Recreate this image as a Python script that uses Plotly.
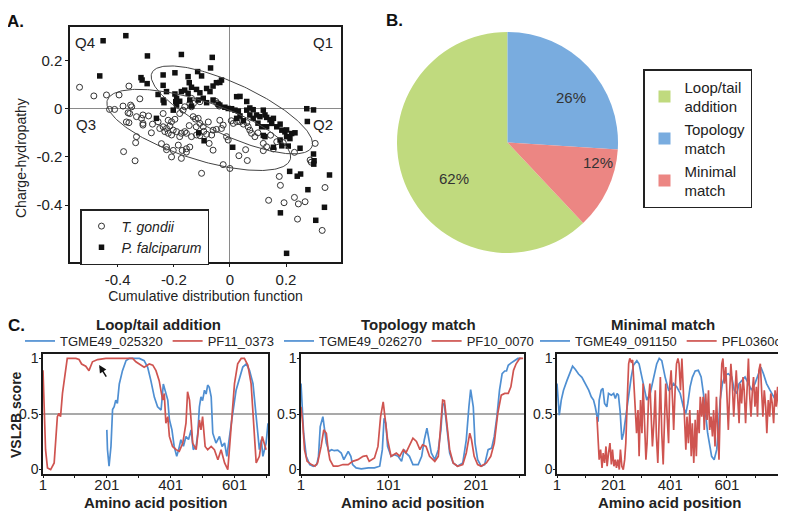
import numpy as np
import plotly.graph_objects as go

# ---------------- data ----------------
# Panel A: scatter (cumulative distribution function vs charge-hydropathy)
tg_x = [-0.536, -0.485, -0.440, -0.395, -0.360, -0.321, -0.429, -0.411, -0.381, -0.354, -0.350, -0.363,
        -0.357, -0.333, -0.315, -0.310, -0.369, -0.360, -0.310, -0.310, -0.333, -0.336, -0.379, -0.338,
        -0.276, -0.256, -0.238, -0.250, -0.232, -0.226, -0.214, -0.220, -0.208, -0.202, -0.190, -0.179,
        -0.173, -0.161, -0.155, -0.137, -0.119, -0.107, -0.093, -0.083, -0.065, -0.060, -0.048, -0.244,
        -0.226, -0.202, -0.184, -0.170, -0.155, -0.143, -0.226, -0.208, -0.173, -0.155, -0.238, -0.220,
        -0.208, -0.196, -0.179, -0.167, -0.161, -0.143, -0.137, -0.131, -0.123, -0.113, -0.107, -0.137,
        -0.130, -0.107, -0.101, -0.074, -0.060, -0.036, -0.030, -0.024, -0.012, -0.006, -0.024, 0.000,
        -0.050, -0.045, -0.038, 0.012, 0.024, 0.036, 0.048, 0.060, 0.065, 0.071, 0.077, 0.032,
        0.062, 0.056, 0.089, 0.119, 0.131, 0.119, 0.155, 0.167, 0.190, 0.230, 0.176, 0.180,
        0.138, 0.193, 0.230, 0.244, 0.268, 0.241, 0.329, 0.339, 0.304, 0.286, 0.290,
        -0.095, -0.077, -0.120, -0.145, 0.005, 0.100, 0.145, -0.280, -0.290]
tg_y = [0.089, 0.053, 0.057, 0.057, 0.094, 0.041, -0.003, -0.003, 0.011, 0.015, 0.008, -0.017,
        -0.020, -0.033, -0.040, -0.026, -0.055, -0.058, -0.061, -0.068, -0.116, -0.141, -0.178, -0.216,
        -0.064, -0.054, -0.075, -0.082, -0.095, -0.082, -0.072, -0.102, -0.109, -0.089, -0.095, -0.116,
        -0.102, -0.095, -0.102, -0.116, -0.109, -0.112, -0.094, -0.106, -0.109, -0.089, -0.086, -0.145,
        -0.159, -0.173, -0.151, -0.173, -0.166, -0.159, -0.170, -0.200, -0.206, -0.180, -0.020, -0.048,
        -0.054, -0.044, -0.020, -0.006, 0.008, 0.022, 0.043, -0.033, -0.043, -0.040, -0.061, 0.008,
        0.022, 0.029, -0.268, -0.144, -0.172, -0.048, -0.082, -0.068, -0.116, -0.130, -0.232, -0.248,
        0.030, 0.022, 0.011, -0.061, -0.054, -0.054, -0.064, -0.058, -0.075, -0.089, -0.102, -0.195,
        -0.215, -0.170, -0.116, -0.144, -0.158, -0.174, -0.167, -0.137, -0.141, -0.181, -0.281, -0.318,
        -0.380, -0.390, -0.368, -0.395, -0.386, -0.458, -0.505, -0.327, -0.144, -0.213, -0.222,
        -0.075, -0.055, -0.075, -0.070, -0.050, -0.100, -0.110, -0.100, -0.030]

pf_x = [-0.452, -0.371, -0.464, -0.294, -0.173, -0.063, -0.069, -0.317, -0.313, -0.295, -0.238, -0.196,
        -0.149, -0.115, -0.101, -0.145, -0.137, -0.119, -0.107, -0.083, -0.071, -0.060, -0.048, -0.036,
        -0.030, -0.238, -0.226, -0.256, -0.238, -0.235, -0.196, -0.190, -0.179, -0.173, -0.161, -0.149,
        -0.143, -0.137, -0.202, -0.262, -0.193, -0.190, -0.113, -0.095, -0.083, -0.060, -0.042, -0.036,
        -0.018, -0.006, 0.006, 0.018, 0.030, 0.024, 0.036, 0.060, 0.071, 0.083, 0.060, 0.071,
        0.083, 0.095, 0.107, 0.119, 0.125, 0.131, 0.143, 0.149, 0.131, 0.155, 0.167, 0.179,
        0.185, 0.196, 0.202, 0.179, 0.185, 0.202, 0.214, 0.220, 0.232, 0.250, 0.024, 0.036,
        0.048, 0.100, 0.113, 0.010, -0.092, -0.111, 0.213, 0.240, 0.252, 0.274, 0.298, 0.276,
        0.298, 0.300, 0.299, 0.278, 0.355, 0.180, 0.306, 0.337, 0.202, 0.119, 0.125, 0.155,
        0.208]
pf_y = [0.282, 0.303, 0.136, 0.219, 0.225, 0.213, 0.169, 0.129, 0.119, 0.104, 0.140, 0.149,
        0.133, 0.154, 0.136, 0.108, 0.089, 0.080, 0.066, 0.084, 0.071, 0.094, 0.108, 0.109,
        0.119, 0.097, 0.071, 0.059, 0.036, 0.025, 0.061, 0.043, 0.031, 0.071, 0.077, 0.064,
        0.036, 0.011, -0.006, -0.040, 0.029, 0.015, 0.036, 0.043, 0.025, 0.036, 0.019, 0.015,
        0.006, 0.001, 0.000, -0.006, -0.010, 0.050, 0.051, 0.030, 0.003, -0.004, -0.006, -0.026,
        -0.040, -0.026, -0.033, -0.006, -0.026, -0.036, -0.046, -0.061, -0.075, -0.040, -0.075, -0.064,
        -0.089, -0.096, -0.088, -0.130, -0.154, -0.116, -0.124, -0.103, -0.100, -0.164, -0.040, -0.030,
        -0.050, -0.060, -0.075, -0.160, -0.133, -0.100, -0.260, -0.280, -0.271, 0.000, -0.005, -0.053,
        -0.188, -0.216, -0.230, -0.336, -0.275, -0.432, -0.463, -0.409, -0.600, -0.111, -0.116, -0.160,
        -0.155]

# ellipses: centre, major half-axis vector, minor half-axis vector (data units)
ell_pf = dict(c=(0.007, -0.005), major=(0.285, -0.154), minor=(-0.039, -0.098))
ell_tg = dict(c=(-0.111, -0.088), major=(0.326, -0.123), minor=(-0.032, -0.115))

a_xticks = [-0.4, -0.2, 0, 0.2]
a_xticktext = ["-0.4", "-0.2", "0", "0.2"]
a_yticks = [-0.4, -0.2, 0, 0.2]
a_yticktext = ["-0.4", "-0.2", "0", "0.2"]

# Panel B: pie
pie_labels = ["Loop/tail<br>addition", "Topology<br>match", "Minimal<br>match"]
pie_values = [62, 26, 12]
pie_colors = ["#c0da7e", "#79acdf", "#ec8683"]

# Panel C: VSL2B profiles
c1_names = ["TGME49_025320", "PF11_0373"]
c1_tg_pos = [201, 203, 208, 214, 219, 224, 229, 234, 240, 250, 261, 271, 282, 303, 318, 329, 339, 350, 360, 371,
             378, 384, 392, 397, 405, 412, 420, 426, 433, 441, 449, 457, 465, 472, 481, 486, 491, 496, 501, 507,
             512, 517, 522, 528, 533, 543, 554, 562, 570, 577, 585, 594, 606, 617, 627, 638, 648, 659, 667, 674,
             679, 685, 690, 700, 706]
c1_tg_val = [0.357, 0.18, 0.03, 0.21, 0.54, 0.565, 0.625, 0.595, 0.77, 0.89, 0.98, 1.0, 1.0, 1.0, 0.98, 0.92, 0.80,
             0.65, 0.565, 0.536, 0.77, 0.71, 0.625, 0.45, 0.357, 0.208, 0.119, 0.179, 0.268, 0.21, 0.298, 0.27,
             0.357, 0.179, 0.21, 0.327, 0.565, 0.655, 0.62, 0.714, 0.68, 0.76, 0.74, 0.655, 0.327, 0.238, 0.298,
             0.208, 0.24, 0.119, 0.268, 0.476, 0.714, 0.833, 0.923, 0.952, 0.893, 0.774, 0.565, 0.327, 0.179,
             0.268, 0.119, 0.238, 0.417]
c1_pf_pos = [1, 4, 9, 15, 25, 36, 41, 46, 51, 56, 62, 70, 77, 88, 104, 114, 122, 135, 145, 156, 172, 198, 240, 271,
             282, 292, 308, 318, 334, 345, 355, 365, 376, 381, 386, 392, 397, 407, 418, 428, 439, 449, 454, 460,
             465, 470, 481, 491, 496, 501, 509, 517, 528, 538, 549, 559, 570, 580, 585, 590, 601, 611, 622, 632,
             643, 653, 664, 669, 679, 688, 700]
c1_pf_val = [0.893, 0.625, 0.179, 0.015, 0.0, 0.06, 0.238, 0.476, 0.506, 0.476, 0.685, 0.863, 1.0, 1.0, 1.0, 0.99,
             0.95, 0.93, 0.89, 0.97, 0.99, 1.0, 1.0, 1.0, 1.0, 0.97, 0.94, 0.92, 0.95, 0.94, 0.89, 0.80, 0.625,
             0.685, 0.417, 0.476, 0.298, 0.208, 0.179, 0.164, 0.238, 0.417, 0.70, 0.625, 0.446, 0.238, 0.179,
             0.446, 0.357, 0.476, 0.208, 0.179, 0.208, 0.179, 0.089, 0.179, 0.06, 0.0, 0.179, 0.387, 0.774,
             0.952, 1.0, 1.0, 0.938, 0.774, 0.327, 0.06, 0.119, 0.298, 0.179]

c2_names = ["TGME49_026270", "PF10_0070"]
c2_tg_pos = [1, 2, 4, 7, 11, 15, 19, 21, 23, 26, 28, 30, 33, 36, 39, 43, 47, 50, 53, 55, 58, 60, 64, 70, 78, 85,
             91, 94, 96, 98, 100, 104, 108, 112, 116, 119, 121, 125, 129, 135, 139, 142, 145, 147, 150, 154, 158,
             161, 163, 165, 168, 171, 175, 180, 186, 190, 193, 195, 198, 200, 203, 207, 211, 213, 215, 219, 222,
             225, 228, 231, 234, 236, 238, 241, 245, 249, 253]
c2_tg_val = [0.774, 0.625, 0.327, 0.119, 0.045, 0.03, 0.045, 0.119, 0.387, 0.476, 0.357, 0.238, 0.164, 0.179,
             0.17, 0.175, 0.149, 0.089, 0.134, 0.164, 0.119, 0.045, 0.015, 0.006, 0.015, 0.015, 0.03, 0.179,
             0.461, 0.417, 0.208, 0.119, 0.134, 0.119, 0.074, 0.179, 0.15, 0.119, 0.045, 0.045, 0.119, 0.268,
             0.372, 0.268, 0.149, 0.089, 0.179, 0.357, 0.595, 0.58, 0.357, 0.149, 0.06, 0.03, 0.06, 0.268, 0.565,
             0.72, 0.565, 0.238, 0.089, 0.03, 0.045, 0.119, 0.179, 0.193, 0.298, 0.476, 0.714, 0.863, 0.887,
             0.887, 0.938, 0.958, 0.982, 1.0, 1.0]
c2_pf_pos = [1, 3, 5, 8, 13, 17, 20, 24, 27, 30, 32, 34, 38, 43, 49, 55, 60, 66, 72, 76, 79, 85, 89, 92, 95, 97,
             100, 104, 110, 114, 118, 121, 125, 129, 133, 137, 140, 144, 148, 154, 158, 161, 163, 165, 168, 171,
             175, 180, 186, 190, 194, 196, 199, 203, 207, 213, 218, 222, 226, 230, 234, 238, 241, 244, 247, 251,
             255]
c2_pf_val = [0.565, 0.417, 0.179, 0.074, 0.045, 0.03, 0.06, 0.208, 0.357, 0.327, 0.179, 0.089, 0.03, 0.03,
             0.045, 0.045, 0.074, 0.089, 0.119, 0.125, 0.074, 0.104, 0.208, 0.476, 0.61, 0.476, 0.268, 0.119,
             0.149, 0.12, 0.179, 0.15, 0.223, 0.283, 0.253, 0.179, 0.223, 0.208, 0.119, 0.074, 0.119, 0.387,
             0.625, 0.62, 0.387, 0.179, 0.06, 0.03, 0.045, 0.149, 0.327, 0.268, 0.119, 0.045, 0.03, 0.06, 0.119,
             0.238, 0.506, 0.67, 0.685, 0.685, 0.744, 0.893, 0.952, 1.0, 1.0]

c3_names = ["TGME49_091150", "PFL0360c"]
c3_tg_pos = [1, 5, 9, 16, 24, 36, 48, 56, 66, 77, 89, 101, 113, 122, 130, 136, 142, 146, 150, 157, 163, 169, 177,
             183, 193, 201, 207, 213, 218, 224, 230, 236, 244, 254, 263, 271, 283, 291, 301, 310, 318, 330, 342,
             353, 362, 371, 383, 395, 404, 412, 424, 436, 447, 456, 463, 471, 479, 489, 500, 510, 518, 526, 533,
             541, 547, 556, 565, 571, 577, 585, 594, 606, 618, 627, 636, 644, 653, 665, 677, 688, 700, 712, 721,
             730, 741, 753, 765, 773, 782, 792]
c3_tg_val = [0.774, 0.625, 0.49, 0.625, 0.714, 0.80, 0.89, 0.93, 0.90, 0.86, 0.83, 0.774, 0.714, 0.655, 0.625,
             0.565, 0.476, 0.43, 0.625, 0.714, 0.73, 0.595, 0.565, 0.685, 0.67, 0.685, 0.64, 0.685, 0.67, 0.52,
             0.268, 0.327, 0.476, 0.685, 0.83, 0.94, 0.98, 0.95, 0.83, 0.714, 0.625, 0.685, 0.83, 0.95, 1.0, 0.98,
             0.83, 0.714, 0.73, 0.774, 0.744, 0.685, 0.565, 0.506, 0.595, 0.744, 0.83, 0.887, 0.893, 0.833,
             0.685, 0.476, 0.327, 0.208, 0.119, 0.089, 0.179, 0.357, 0.625, 0.774, 0.848, 0.863, 0.833, 0.714,
             0.685, 0.774, 0.80, 0.833, 0.774, 0.714, 0.774, 0.863, 0.92, 0.863, 0.774, 0.714, 0.655, 0.625,
             0.685, 0.744]
c3_pf_pos = [142, 146, 150, 155, 160, 164, 169, 174, 178, 183, 188, 193, 197, 202, 207, 211, 216, 221, 225, 230,
             235, 240, 244, 249, 254, 258, 263, 268, 272, 277, 282, 287, 291, 296, 301, 305, 310, 315, 319, 324,
             329, 334, 338, 343, 348, 352, 357, 362, 366, 371, 376, 381, 385, 390, 395, 399, 404, 409, 413, 418,
             423, 428, 432, 437, 442, 446, 451, 456, 460, 465, 470, 475, 479, 484, 489, 493, 498, 503, 507, 512,
             517, 521, 526, 531, 536, 540, 545, 550, 554, 559, 564, 569, 573, 578, 583, 587, 592, 597, 601, 606,
             611, 615, 620, 625, 630, 634, 639, 644, 648, 653, 658, 662, 667, 672, 677, 681, 686, 691, 695, 700,
             705, 709, 714, 719, 724, 728, 733, 738, 742, 747, 752, 756, 761, 766, 771, 775, 780, 785, 789, 792]
c3_pf_val = [0.476, 0.238, 0.089, 0.179, 0.015, 0.149, 0.06, 0.208, 0.03, 0.15, 0.238, 0.045, 0.179, 0.03, 0.09,
             0.015, 0.09, 0.0, 0.179, 0.03, 0.0, 0.089, 0.238, 0.625, 0.952, 1.0, 0.97, 0.985, 0.774, 0.595,
             0.327, 0.536, 0.119, 0.625, 0.327, 0.774, 0.476, 0.089, 0.238, 0.625, 0.774, 0.417, 0.208, 0.417,
             0.714, 0.298, 0.06, 0.476, 0.833, 0.327, 0.045, 0.476, 0.774, 0.476, 0.238, 0.744, 0.893, 0.625,
             0.357, 0.714, 0.952, 1.0, 0.952, 0.714, 1.0, 0.774, 0.417, 0.179, 0.476, 0.238, 0.536, 0.119,
             0.417, 0.06, 0.447, 0.119, 0.536, 0.327, 0.655, 0.476, 0.655, 0.357, 0.685, 0.447, 0.714, 0.357,
             0.476, 0.298, 0.536, 0.208, 0.655, 0.387, 0.089, 0.625, 0.952, 1.0, 0.774, 0.923, 0.625, 0.357,
             0.714, 0.952, 0.774, 0.476, 0.714, 0.893, 0.655, 0.417, 0.774, 0.595, 0.833, 0.714, 0.417, 0.804,
             1.0, 0.685, 0.476, 0.714, 0.833, 0.565, 0.744, 0.476, 0.893, 0.952, 0.655, 0.476, 0.714, 0.565,
             0.327, 0.625, 0.476, 0.685, 0.595, 0.417, 0.714, 0.565, 0.744, 0.506, 0.595, 0.387]

c_titles = ["Loop/tail addition", "Topology match", "Minimal match"]
c_xtitle = "Amino acid position"
c_ranges = [[1, 706], [1, 256], [1, 792]]
c1_ticks = [1, 101, 201, 301, 401, 501, 601, 701]
c1_ticktext = ["1", "", "201", "", "401", "", "601", ""]
c2_ticks = [1, 51, 101, 151, 201, 251]
c2_ticktext = ["1", "", "101", "", "201", ""]
c3_ticks = [1, 101, 201, 301, 401, 501, 601, 701]
c3_ticktext = ["1", "", "201", "", "401", "", "601", ""]
c_yticks = [0, 0.5, 1]
c_yticktext = ["0", "0.5", "1"]

# ---------------- styling helpers ----------------
W, H = 786, 513
OFF = 8  # the page shows the figure shifted by the body margin
FONT = "Liberation Sans, Arial, Helvetica, sans-serif"
BLUE = "#4f8fd2"
RED = "#cf5450"


def fx(p):
    return (p - OFF) / W


def fy(p):
    return 1 - (p - OFF) / H


def ellipse(e, n=240):
    t = np.linspace(0, 2 * np.pi, n)
    cx, cy = e["c"]
    mx, my = e["major"]
    nx, ny = e["minor"]
    return cx + mx * np.cos(t) + nx * np.sin(t), cy + my * np.cos(t) + ny * np.sin(t)


fig = go.Figure()

# ---- Panel A ----
fig.add_trace(go.Scatter(x=tg_x, y=tg_y, mode="markers", name="<i>T. gondii</i>",
                         marker=dict(symbol="circle-open", size=6, color="#333333", line=dict(width=1)),
                         xaxis="x", yaxis="y", legend="legend"))
fig.add_trace(go.Scatter(x=pf_x, y=pf_y, mode="markers", name="<i>P. falciparum</i>",
                         marker=dict(symbol="square", size=5.5, color="#111111"),
                         xaxis="x", yaxis="y", legend="legend"))
for e in (ell_pf, ell_tg):
    ex, ey = ellipse(e)
    fig.add_trace(go.Scatter(x=ex, y=ey, mode="lines", line=dict(color="#444444", width=1),
                             showlegend=False, hoverinfo="skip", xaxis="x", yaxis="y"))

# ---- Panel B ----
fig.add_trace(go.Pie(labels=pie_labels, values=pie_values, sort=False, direction="clockwise",
                     rotation=136.8, textinfo="none",
                     marker=dict(colors=pie_colors, line=dict(width=0)),
                     domain=dict(x=[fx(397), fx(618)], y=[fy(253), fy(32)]),
                     legend="legend2"))

# ---- Panel C ----
c_series = [
    (c1_names, c1_tg_pos, c1_tg_val, c1_pf_pos, c1_pf_val, "x2", "y2", "legend3"),
    (c2_names, c2_tg_pos, c2_tg_val, c2_pf_pos, c2_pf_val, "x3", "y3", "legend4"),
    (c3_names, c3_tg_pos, c3_tg_val, c3_pf_pos, c3_pf_val, "x4", "y4", "legend5"),
]
for names, tp, tv, pp, pv, xa, ya, lg in c_series:
    fig.add_trace(go.Scatter(x=tp, y=tv, mode="lines", name=names[0], line=dict(color=BLUE, width=1.7),
                             xaxis=xa, yaxis=ya, legend=lg))
    fig.add_trace(go.Scatter(x=pp, y=pv, mode="lines", name=names[1], line=dict(color=RED, width=1.7),
                             xaxis=xa, yaxis=ya, legend=lg))

# ---- layout ----
axis_common = dict(showline=True, mirror=True, linecolor="#1a1a1a", linewidth=1.5, showgrid=False,
                   ticks="outside", tickcolor="#1a1a1a", automargin=False)

layout = dict(
    width=W, height=H, margin=dict(l=0, r=0, t=0, b=0, pad=0, autoexpand=False),
    paper_bgcolor="white", plot_bgcolor="white",
    font=dict(family=FONT, color="#222222"),
    xaxis=dict(domain=[fx(70), fx(341)], range=[-0.57, 0.396], anchor="y",
               tickvals=a_xticks, ticktext=a_xticktext, ticklen=3,
               tickfont=dict(size=15, color="#222222", family=FONT),
               zeroline=True, zerolinecolor="#8a8a8a", zerolinewidth=1,
               title=dict(text="Cumulative distribution function", font=dict(size=14), standoff=4),
               **axis_common),
    yaxis=dict(domain=[fy(262), fy(27)], range=[-0.636, 0.339], anchor="x",
               tickvals=a_yticks, ticktext=a_yticktext, ticklen=3,
               tickfont=dict(size=15, color="#222222", family=FONT),
               zeroline=True, zerolinecolor="#8a8a8a", zerolinewidth=1, **axis_common),
    legend=dict(x=fx(80), y=fy(209), xanchor="left", yanchor="top", bgcolor="white",
                bordercolor="#222222", borderwidth=1.5, font=dict(size=14, family=FONT)),
    legend2=dict(x=fx(643), y=fy(69), xanchor="left", yanchor="top", bgcolor="white",
                 bordercolor="#222222", borderwidth=1.5, font=dict(size=15, family=FONT)),
)

c_xdom = [[fx(43), fx(268)], [fx(301), fx(524)], [fx(557), fx(781)]]
c_ticks = [(c1_ticks, c1_ticktext), (c2_ticks, c2_ticktext), (c3_ticks, c3_ticktext)]
c_leg_x = [20, 279, 535]
for i in range(3):
    k = i + 2
    layout[f"xaxis{k}"] = dict(domain=c_xdom[i], range=c_ranges[i], anchor=f"y{k}", ticklen=2,
                               ticklabelstandoff=-6,
                               tickfont=dict(size=15, color="#222222", family=FONT),
                               tickvals=c_ticks[i][0], ticktext=c_ticks[i][1], zeroline=False,
                               **axis_common)
    layout[f"yaxis{k}"] = dict(domain=[fy(474), fy(354)], range=[-0.04, 1.04], anchor=f"x{k}", ticklen=2,
                               ticklabelstandoff=-2,
                               tickfont=dict(size=14, color="#222222", family=FONT),
                               tickvals=c_yticks, ticktext=c_yticktext, zeroline=False, **axis_common)
    layout[f"legend{k + 1}"] = dict(orientation="h", x=fx(c_leg_x[i]), y=fy(341), xanchor="left",
                                    yanchor="middle", bgcolor="rgba(0,0,0,0)", borderwidth=0,
                                    font=dict(size=13, family=FONT))

fig.update_layout(**layout)

# reference lines at 0.5
for k in (2, 3, 4):
    fig.add_shape(type="line", xref=f"x{k} domain", yref=f"y{k}", x0=0, x1=1, y0=0.5, y1=0.5,
                  line=dict(color="#8c8c8c", width=1.5), layer="below")

ann = []


def note(text, x, y, size, angle=0, color="#222222"):
    ann.append(dict(text=text, x=fx(x), y=fy(y), xref="paper", yref="paper", xanchor="center",
                    yanchor="middle", textangle=angle, showarrow=False,
                    font=dict(size=size, color=color, family=FONT)))


# panel letters
for txt, x, y in (("A.", 15, 21), ("B.", 394, 20), ("C.", 16, 325)):
    note(f"<b>{txt}</b>", x, y, 17, color="#111111")
# quadrant labels
for txt, x, y in (("Q4", 85, 42), ("Q1", 323, 42), ("Q3", 86, 124), ("Q2", 323, 124)):
    note(txt, x, y, 15)
# y title panel A
note("Charge-hydropathy", 21, 158, 14, angle=-90)
# pie percentages
for v, x, y in zip(pie_values, (454, 571, 598), (179, 97, 163)):
    note(f"{v}%", x, y, 15, color="#333333")
# C panel titles and x titles
for t, x in zip(c_titles, (158, 418, 663)):
    note(f"<b>{t}</b>", x, 324, 15)
for x in (155, 412, 669):
    note(f"<b>{c_xtitle}</b>", x, 502, 15)
# y title panel C
note("<b>VSL2B score</b>", 16, 415, 14, angle=-90)
# arrow in C1
ann.append(dict(text="", x=177, y=0.94, xref="x2", yref="y2", ax=8, ay=13, showarrow=True,
                arrowhead=2, arrowsize=1, arrowwidth=1.5, arrowcolor="#111111"))
fig.update_layout(annotations=ann)

fig.write_html("out.html")
